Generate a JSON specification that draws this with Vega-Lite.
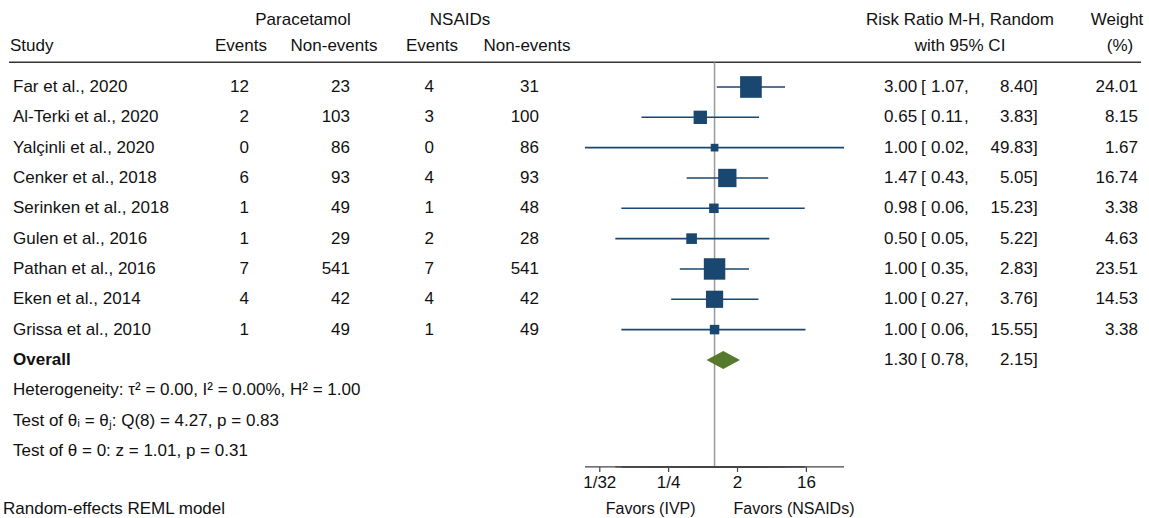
{
 "$schema": "https://vega.github.io/schema/vega-lite/v6.json",
 "width": 1149, "height": 518, "padding": 0,
 "autosize": {"type": "none"},
 "background": "#ffffff",
 "config": {"view": {"stroke": null}, "text": {"font": "Liberation Sans", "fontSize": 17, "color": "#111111"}},
 "datasets": {
  "rows": [
   {"label":"Far et al., 2020","kind":"study","pe":12,"pn":23,"ne":4,"nn":31,"rr":3.00,"lo":1.07,"hi":8.40,"w":24.01},
   {"label":"Al-Terki et al., 2020","kind":"study","pe":2,"pn":103,"ne":3,"nn":100,"rr":0.65,"lo":0.11,"hi":3.83,"w":8.15},
   {"label":"Yalçinli et al.,  2020","kind":"study","pe":0,"pn":86,"ne":0,"nn":86,"rr":1.00,"lo":0.02,"hi":49.83,"w":1.67},
   {"label":"Cenker et al., 2018","kind":"study","pe":6,"pn":93,"ne":4,"nn":93,"rr":1.47,"lo":0.43,"hi":5.05,"w":16.74},
   {"label":"Serinken et al., 2018","kind":"study","pe":1,"pn":49,"ne":1,"nn":48,"rr":0.98,"lo":0.06,"hi":15.23,"w":3.38},
   {"label":"Gulen et al., 2016","kind":"study","pe":1,"pn":29,"ne":2,"nn":28,"rr":0.50,"lo":0.05,"hi":5.22,"w":4.63},
   {"label":"Pathan et al., 2016","kind":"study","pe":7,"pn":541,"ne":7,"nn":541,"rr":1.00,"lo":0.35,"hi":2.83,"w":23.51},
   {"label":"Eken et al., 2014","kind":"study","pe":4,"pn":42,"ne":4,"nn":42,"rr":1.00,"lo":0.27,"hi":3.76,"w":14.53},
   {"label":"Grissa et al., 2010","kind":"study","pe":1,"pn":49,"ne":1,"nn":49,"rr":1.00,"lo":0.06,"hi":15.55,"w":3.38},
   {"label":"Overall","kind":"overall","rr":1.30,"lo":0.78,"hi":2.15}
  ],
  "notes": [
   {"label":"Heterogeneity: τ² = 0.00, I² = 0.00%, H² = 1.00"},
   {"label":"Test of θᵢ = θⱼ: Q(8) = 4.27, p = 0.83"},
   {"label":"Test of θ = 0: z = 1.01, p = 0.31"}
  ],
  "model": [{"label":"Random-effects REML model"}],
  "ticks": [{"t":0.03125,"tl":"1/32"},{"t":0.25,"tl":"1/4"},{"t":2,"tl":"2"},{"t":16,"tl":"16"}],
  "blank": [{}]
 },
 "encoding": {
  "y": {"field": "label", "type": "ordinal", "axis": null,
   "scale": {"type": "point", "padding": 0.54, "align": 0.804, "round": false,
    "domain": ["h1","h2","Far et al., 2020","Al-Terki et al., 2020","Yalçinli et al.,  2020","Cenker et al., 2018","Serinken et al., 2018","Gulen et al., 2016","Pathan et al., 2016","Eken et al., 2014","Grissa et al., 2010","Overall","Heterogeneity: τ² = 0.00, I² = 0.00%, H² = 1.00","Test of θᵢ = θⱼ: Q(8) = 4.27, p = 0.83","Test of θ = 0: z = 1.01, p = 0.31","gap","Random-effects REML model"]}}
 },
 "resolve": {"scale": {"x": "independent"}},
 "layer": [
  {
   "layer": [
    {"data": {"name": "blank"}, "mark": {"type": "rule", "color": "#333333", "strokeWidth": 1.5, "yOffset": 5.5},
     "encoding": {"x": {"datum": 9, "type": "quantitative", "scale": {"type": "linear", "domain": [0, 1149], "nice": false, "zero": false}, "axis": null}, "x2": {"datum": 1141}, "y": {"datum": "h2", "type": "ordinal"}}},
    {"data": {"name": "blank"}, "mark": {"type": "text", "align": "center", "dy": -6}, "encoding": {"x": {"datum": 303, "type": "quantitative", "axis": null}, "y": {"datum": "h1", "type": "ordinal"}, "text": {"value": "Paracetamol"}}},
    {"data": {"name": "blank"}, "mark": {"type": "text", "align": "center", "dy": -6}, "encoding": {"x": {"datum": 460, "type": "quantitative", "axis": null}, "y": {"datum": "h1", "type": "ordinal"}, "text": {"value": "NSAIDs"}}},
    {"data": {"name": "blank"}, "mark": {"type": "text", "align": "center", "dy": -6}, "encoding": {"x": {"datum": 960, "type": "quantitative", "axis": null}, "y": {"datum": "h1", "type": "ordinal"}, "text": {"value": "Risk Ratio M-H, Random"}}},
    {"data": {"name": "blank"}, "mark": {"type": "text", "align": "center", "dy": -6}, "encoding": {"x": {"datum": 1117, "type": "quantitative", "axis": null}, "y": {"datum": "h1", "type": "ordinal"}, "text": {"value": "Weight"}}},
    {"data": {"name": "blank"}, "mark": {"type": "text", "align": "left", "dy": -11}, "encoding": {"x": {"datum": 10, "type": "quantitative", "axis": null}, "y": {"datum": "h2", "type": "ordinal"}, "text": {"value": "Study"}}},
    {"data": {"name": "blank"}, "mark": {"type": "text", "align": "center", "dy": -11}, "encoding": {"x": {"datum": 241, "type": "quantitative", "axis": null}, "y": {"datum": "h2", "type": "ordinal"}, "text": {"value": "Events"}}},
    {"data": {"name": "blank"}, "mark": {"type": "text", "align": "center", "dy": -11}, "encoding": {"x": {"datum": 334, "type": "quantitative", "axis": null}, "y": {"datum": "h2", "type": "ordinal"}, "text": {"value": "Non-events"}}},
    {"data": {"name": "blank"}, "mark": {"type": "text", "align": "center", "dy": -11}, "encoding": {"x": {"datum": 432, "type": "quantitative", "axis": null}, "y": {"datum": "h2", "type": "ordinal"}, "text": {"value": "Events"}}},
    {"data": {"name": "blank"}, "mark": {"type": "text", "align": "center", "dy": -11}, "encoding": {"x": {"datum": 527, "type": "quantitative", "axis": null}, "y": {"datum": "h2", "type": "ordinal"}, "text": {"value": "Non-events"}}},
    {"data": {"name": "blank"}, "mark": {"type": "text", "align": "center", "dy": -11}, "encoding": {"x": {"datum": 960, "type": "quantitative", "axis": null}, "y": {"datum": "h2", "type": "ordinal"}, "text": {"value": "with 95% CI"}}},
    {"data": {"name": "blank"}, "mark": {"type": "text", "align": "center", "dy": -11}, "encoding": {"x": {"datum": 1120, "type": "quantitative", "axis": null}, "y": {"datum": "h2", "type": "ordinal"}, "text": {"value": "(%)"}}},
    {"data": {"name": "rows"}, "transform": [{"filter": {"field": "kind", "equal": "study"}}], "mark": {"type": "text", "align": "left"}, "encoding": {"x": {"datum": 13, "type": "quantitative", "axis": null}, "text": {"field": "label"}}},
    {"data": {"name": "rows"}, "transform": [{"filter": {"field": "kind", "equal": "overall"}}], "mark": {"type": "text", "align": "left", "fontWeight": "bold"}, "encoding": {"x": {"datum": 13, "type": "quantitative", "axis": null}, "text": {"field": "label"}}},
    {"data": {"name": "notes"}, "mark": {"type": "text", "align": "left"}, "encoding": {"x": {"datum": 13, "type": "quantitative", "axis": null}, "text": {"field": "label"}}},
    {"data": {"name": "model"}, "mark": {"type": "text", "align": "left", "dy": -3}, "encoding": {"x": {"datum": 3, "type": "quantitative", "axis": null}, "text": {"field": "label"}}},
    {"data": {"name": "rows"}, "transform": [{"filter": {"field": "kind", "equal": "study"}}], "mark": {"type": "text", "align": "right"}, "encoding": {"x": {"datum": 249, "type": "quantitative", "axis": null}, "text": {"field": "pe", "type": "quantitative"}}},
    {"data": {"name": "rows"}, "transform": [{"filter": {"field": "kind", "equal": "study"}}], "mark": {"type": "text", "align": "right"}, "encoding": {"x": {"datum": 350, "type": "quantitative", "axis": null}, "text": {"field": "pn", "type": "quantitative"}}},
    {"data": {"name": "rows"}, "transform": [{"filter": {"field": "kind", "equal": "study"}}], "mark": {"type": "text", "align": "right"}, "encoding": {"x": {"datum": 434, "type": "quantitative", "axis": null}, "text": {"field": "ne", "type": "quantitative"}}},
    {"data": {"name": "rows"}, "transform": [{"filter": {"field": "kind", "equal": "study"}}], "mark": {"type": "text", "align": "right"}, "encoding": {"x": {"datum": 539, "type": "quantitative", "axis": null}, "text": {"field": "nn", "type": "quantitative"}}},
    {"data": {"name": "rows"}, "mark": {"type": "text", "align": "left"}, "encoding": {"x": {"datum": 884, "type": "quantitative", "axis": null}, "text": {"field": "rr", "type": "quantitative", "format": ".2f"}}},
    {"data": {"name": "rows"}, "mark": {"type": "text", "align": "left"}, "encoding": {"x": {"datum": 921, "type": "quantitative", "axis": null}, "text": {"value": "["}}},
    {"data": {"name": "rows"}, "mark": {"type": "text", "align": "left"}, "encoding": {"x": {"datum": 931, "type": "quantitative", "axis": null}, "text": {"field": "lo", "type": "quantitative", "format": ".2f"}}},
    {"data": {"name": "rows"}, "mark": {"type": "text", "align": "left"}, "encoding": {"x": {"datum": 964, "type": "quantitative", "axis": null}, "text": {"value": ","}}},
    {"data": {"name": "rows"}, "mark": {"type": "text", "align": "right"}, "encoding": {"x": {"datum": 1033, "type": "quantitative", "axis": null}, "text": {"field": "hi", "type": "quantitative", "format": ".2f"}}},
    {"data": {"name": "rows"}, "mark": {"type": "text", "align": "left"}, "encoding": {"x": {"datum": 1033, "type": "quantitative", "axis": null}, "text": {"value": "]"}}},
    {"data": {"name": "rows"}, "transform": [{"filter": {"field": "kind", "equal": "study"}}], "mark": {"type": "text", "align": "right"}, "encoding": {"x": {"datum": 1138, "type": "quantitative", "axis": null}, "text": {"field": "w", "type": "quantitative", "format": ".2f"}}}
   ]
  },
  {
   "layer": [
    {"data": {"name": "blank"}, "mark": {"type": "rule", "color": "#9a9a9a", "strokeWidth": 1.5, "yOffset": 5.5, "y2Offset": 16},
     "encoding": {"x": {"datum": 1, "type": "quantitative", "axis": null}, "y": {"datum": "h2", "type": "ordinal"}, "y2": {"datum": "Test of θ = 0: z = 1.01, p = 0.31"}}},
    {"data": {"name": "rows"}, "transform": [{"filter": {"field": "kind", "equal": "study"}}], "mark": {"type": "rule", "color": "#1a476f", "strokeWidth": 1.6},
     "encoding": {"x": {"field": "lo", "type": "quantitative", "scale": {"type": "log", "base": 2, "domain": [0.02, 49.83], "range": [585, 844], "nice": false}, "axis": null},
      "x2": {"field": "hi"}}},
    {"data": {"name": "rows"}, "transform": [{"filter": {"field": "kind", "equal": "study"}}], "mark": {"type": "point", "shape": "square", "filled": true, "opacity": 1, "color": "#1a476f"},
     "encoding": {"x": {"field": "rr", "type": "quantitative", "axis": null}, "size": {"field": "w", "type": "quantitative", "scale": {"type": "linear", "domain": [0, 24.01], "range": [28, 470]}, "legend": null}}},
    {"data": {"name": "rows"}, "transform": [{"filter": {"field": "kind", "equal": "overall"}}], "mark": {"type": "point", "shape": "M-1,0L0,-0.54L1,0L0,0.54Z", "filled": true, "opacity": 1, "color": "#557a2c", "size": 1122},
     "encoding": {"x": {"field": "rr", "type": "quantitative", "axis": null}}},
    {"data": {"name": "rows"}, "transform": [{"filter": {"field": "kind", "equal": "study"}}], "mark": {"type": "rule", "color": "#444444", "strokeWidth": 1.2, "yOffset": 16},
     "encoding": {"x": {"aggregate": "min", "field": "lo", "type": "quantitative", "axis": null}, "x2": {"aggregate": "max", "field": "hi"}, "y": {"datum": "Test of θ = 0: z = 1.01, p = 0.31", "type": "ordinal"}}},
    {"data": {"name": "ticks"}, "mark": {"type": "rule", "color": "#444444", "strokeWidth": 1.2, "yOffset": 16, "y2Offset": 21},
     "encoding": {"x": {"field": "t", "type": "quantitative", "axis": null}, "y": {"datum": "Test of θ = 0: z = 1.01, p = 0.31", "type": "ordinal"}, "y2": {"datum": "Test of θ = 0: z = 1.01, p = 0.31"}}},
    {"data": {"name": "ticks"}, "mark": {"type": "text", "align": "center", "dy": 2, "fontSize": 17},
     "encoding": {"x": {"field": "t", "type": "quantitative", "axis": null}, "y": {"datum": "gap", "type": "ordinal"}, "text": {"field": "tl"}}},
    {"data": {"name": "blank"}, "mark": {"type": "text", "align": "right", "dx": -19, "dy": -3, "fontSize": 16},
     "encoding": {"x": {"datum": 1, "type": "quantitative", "axis": null}, "y": {"datum": "Random-effects REML model", "type": "ordinal"}, "text": {"value": "Favors (IVP)"}}},
    {"data": {"name": "blank"}, "mark": {"type": "text", "align": "left", "dx": 19, "dy": -3, "fontSize": 16},
     "encoding": {"x": {"datum": 1, "type": "quantitative", "axis": null}, "y": {"datum": "Random-effects REML model", "type": "ordinal"}, "text": {"value": "Favors (NSAIDs)"}}}
   ]
  }
 ]
}
